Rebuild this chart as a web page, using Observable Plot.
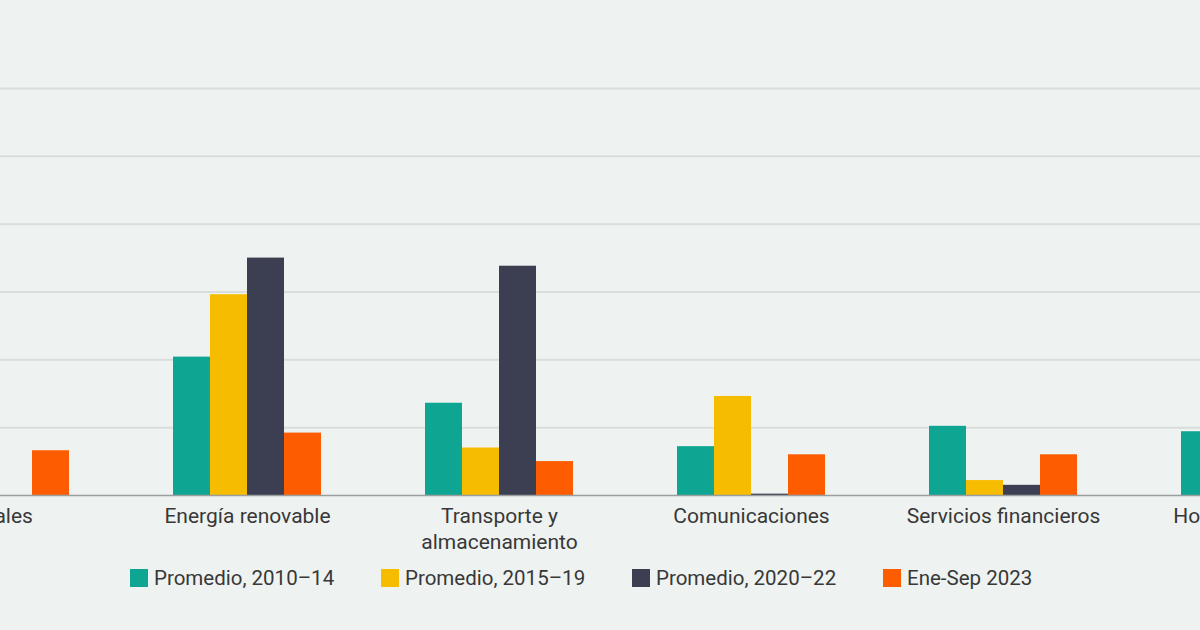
<!DOCTYPE html>
<html><head><meta charset="utf-8">
<script src="https://cdn.jsdelivr.net/npm/d3@7"></script>
<script src="https://cdn.jsdelivr.net/npm/@observablehq/plot@0.6"></script>
<style>
html,body{margin:0;padding:0;background:#eef2f1;}
body{width:1200px;height:630px;overflow:hidden;position:relative;font-family:Roboto,sans-serif;}
#chart{position:absolute;left:-131px;top:0;width:1512px;}
#chart svg{max-width:none;}
#legend{position:absolute;top:566px;left:130px;display:flex;}
.item{width:251px;display:flex;align-items:center;font-size:20.5px;color:#383838;white-space:nowrap;}
.sw{width:18px;height:18px;margin-right:6px;flex:none;}
</style></head><body>
<div id="chart"></div><div id="legend"></div>
<script>
const categories = ["Metales", "Energía renovable", "Transporte y\nalmacenamiento", "Comunicaciones", "Servicios financieros", "Hoteles y turismo"];
const series = ["Promedio, 2010–14", "Promedio, 2015–19", "Promedio, 2020–22", "Ene-Sep 2023"];
const colors = ["#0ea592", "#f6bc00", "#3c3f52", "#fd5c00"];
const v2010_14 = [8.0, 10.2, 6.8, 3.6, 5.1, 4.7];
const v2015_19 = [6.0, 14.8, 3.5, 7.3, 1.1, 2.0];
const v2020_22 = [0.0, 17.5, 16.9, 0.1, 0.75, 1.5];
const v2023    = [3.3, 4.6, 2.5, 3.0, 3.0, 3.0];
const yTicks = [0, 5, 10, 15, 20, 25, 30];

const values = [v2010_14, v2015_19, v2020_22, v2023];
const data = categories.flatMap((c, i) => series.map((s, k) => ({category: c, series: s, value: values[k][i]})));

const chart = Plot.plot({
  width: 1512, height: 555,
  marginTop: 88, marginBottom: 60, marginLeft: 0, marginRight: 0,
  style: {background: "transparent", fontFamily: "Roboto", fontSize: "21px", color: "#383838"},
  fx: {domain: categories, padding: 0, label: null, axis: null},
  x: {domain: series, paddingInner: 0, paddingOuter: 1.333, axis: null},
  y: {domain: [0, 30], axis: null},
  color: {domain: series, range: colors},
  marks: [
    Plot.ruleY(yTicks.slice(1), {stroke: "#d9dedd", strokeWidth: 2}),
    Plot.barY(data, {fx: "category", x: "series", y: "value", fill: "series"}),
    Plot.ruleY([0], {stroke: "#9a9e9e", strokeWidth: 1.5}),
    Plot.axisFx({anchor: "bottom", tickSize: 0, tickPadding: 9, lineHeight: 1.24, fontSize: 21, label: null, fill: "#383838"})
  ]
});
document.getElementById("chart").appendChild(chart);

const legend = document.getElementById("legend");
series.forEach((s, k) => {
  const item = document.createElement("div");
  item.className = "item";
  const sw = document.createElement("span");
  sw.className = "sw";
  sw.style.background = colors[k];
  const t = document.createElement("span");
  t.textContent = s;
  item.appendChild(sw); item.appendChild(t);
  legend.appendChild(item);
});
</script>
</body></html>
